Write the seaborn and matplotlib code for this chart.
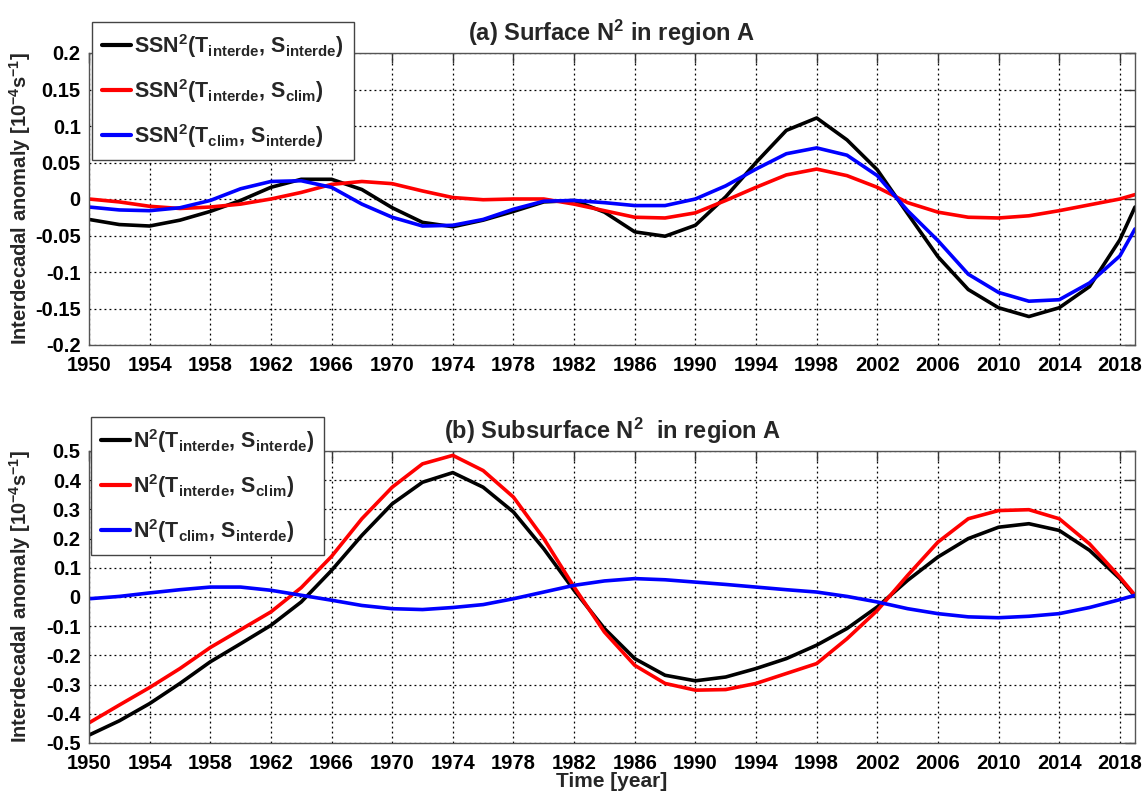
import matplotlib
matplotlib.use("Agg")
import matplotlib.pyplot as plt
from matplotlib import font_manager
import pandas as pd
import seaborn as sns

# ---------------------------------------------------------------- data
years = [1950, 1952, 1954, 1956, 1958, 1960, 1962, 1964, 1966, 1968,
         1970, 1972, 1974, 1976, 1978, 1980, 1982, 1984, 1986, 1988,
         1990, 1992, 1994, 1996, 1998, 2000, 2002, 2004, 2006, 2008,
         2010, 2012, 2014, 2016, 2018, 2019]

# (a) surface N^2 anomalies [1e-4 s^-1]
ssn_tint_sint = [-0.028, -0.035, -0.037, -0.029, -0.017, -0.002, 0.016, 0.027, 0.027, 0.013,
                 -0.012, -0.032, -0.038, -0.029, -0.017, -0.004, -0.002, -0.018, -0.045, -0.051,
                 -0.036, 0.003, 0.050, 0.094, 0.111, 0.081, 0.040, -0.020, -0.079, -0.124,
                 -0.149, -0.161, -0.149, -0.120, -0.056, -0.011]
ssn_tint_sclim = [0.000, -0.004, -0.010, -0.013, -0.011, -0.007, 0.000, 0.009, 0.020, 0.024,
                  0.021, 0.011, 0.002, -0.001, 0.000, 0.000, -0.007, -0.016, -0.025, -0.026,
                  -0.019, -0.002, 0.016, 0.033, 0.041, 0.032, 0.016, -0.005, -0.018, -0.025,
                  -0.026, -0.023, -0.016, -0.008, 0.000, 0.006]
ssn_tclim_sint = [-0.011, -0.015, -0.016, -0.012, -0.002, 0.014, 0.024, 0.025, 0.016, -0.007,
                  -0.025, -0.037, -0.036, -0.028, -0.014, -0.003, -0.002, -0.005, -0.009, -0.009,
                  0.000, 0.018, 0.041, 0.062, 0.070, 0.060, 0.032, -0.016, -0.057, -0.103,
                  -0.128, -0.140, -0.138, -0.115, -0.078, -0.041]

# (b) subsurface N^2 anomalies [1e-4 s^-1]
n2_tint_sint = [-0.473, -0.424, -0.365, -0.296, -0.222, -0.160, -0.097, -0.017, 0.091, 0.211,
                0.319, 0.393, 0.426, 0.376, 0.291, 0.165, 0.023, -0.108, -0.211, -0.268,
                -0.287, -0.274, -0.245, -0.211, -0.165, -0.108, -0.034, 0.057, 0.137, 0.200,
                0.239, 0.251, 0.228, 0.160, 0.063, 0.003]
n2_tint_sclim = [-0.431, -0.370, -0.310, -0.245, -0.173, -0.112, -0.051, 0.032, 0.139, 0.268,
                 0.376, 0.456, 0.485, 0.433, 0.342, 0.200, 0.034, -0.120, -0.234, -0.296,
                 -0.319, -0.317, -0.296, -0.262, -0.228, -0.143, -0.046, 0.074, 0.188, 0.268,
                 0.296, 0.299, 0.268, 0.182, 0.068, 0.006]
n2_tclim_sint = [-0.006, 0.002, 0.014, 0.025, 0.034, 0.034, 0.023, 0.006, -0.011, -0.029,
                 -0.040, -0.043, -0.036, -0.026, -0.006, 0.017, 0.040, 0.055, 0.063, 0.059,
                 0.051, 0.043, 0.034, 0.025, 0.017, 0.002, -0.017, -0.040, -0.057, -0.068,
                 -0.071, -0.066, -0.057, -0.036, -0.009, 0.006]

top_labels = [r"SSN$^2$(T$_{interde}$, S$_{interde}$)",
              r"SSN$^2$(T$_{interde}$, S$_{clim}$)",
              r"SSN$^2$(T$_{clim}$, S$_{interde}$)"]
bottom_labels = [r"N$^2$(T$_{interde}$, S$_{interde}$)",
                 r"N$^2$(T$_{interde}$, S$_{clim}$)",
                 r"N$^2$(T$_{clim}$, S$_{interde}$)"]
titles = [r"(a) Surface N$^2$ in region A", r"(b) Subsurface N$^2$  in region A"]
ylabel = r"Interdecadal anomaly [10$^{-4}$s$^{-1}$]"
xlabel = "Time [year]"
colors = ["#000000", "#ff0000", "#0000ff"]

xticks = list(range(1950, 2019, 4))
top_yticks = [-0.2, -0.15, -0.1, -0.05, 0, 0.05, 0.1, 0.15, 0.2]
bottom_yticks = [-0.5, -0.4, -0.3, -0.2, -0.1, 0, 0.1, 0.2, 0.3, 0.4, 0.5]

# ---------------------------------------------------------------- style
sns.set_theme(style="white")
available = {f.name for f in font_manager.fontManager.ttflist}
family = "Liberation Sans Narrow" if "Liberation Sans Narrow" in available else "Liberation Sans"
plt.rcParams["font.family"] = [family, "DejaVu Sans"]
plt.rcParams["font.weight"] = "bold"
plt.rcParams["mathtext.fontset"] = "custom"
for key in ("rm", "it", "bf", "sf"):
    plt.rcParams[f"mathtext.{key}"] = f"{family}:bold"
plt.rcParams["mathtext.default"] = "rm"
plt.rcParams["axes.unicode_minus"] = False


def long_frame(labels, series):
    rows = []
    for lab, vals in zip(labels, series):
        for y, v in zip(years, vals):
            rows.append({"year": y, "value": v, "series": lab})
    return pd.DataFrame(rows)


def fmt(v):
    return "0" if v == 0 else f"{v:g}"


fig = plt.figure(figsize=(11.45, 7.98), dpi=100)
W, H = 1145, 798
x0, x1 = 89, 1135
panels = [
    dict(top=53, bottom=345, labels=top_labels,
         series=[ssn_tint_sint, ssn_tint_sclim, ssn_tclim_sint],
         ylim=(-0.2, 0.2), yticks=top_yticks, title=titles[0], leg_top=22, leg_left=92),
    dict(top=451, bottom=743, labels=bottom_labels,
         series=[n2_tint_sint, n2_tint_sclim, n2_tclim_sint],
         ylim=(-0.5, 0.5), yticks=bottom_yticks, title=titles[1], leg_top=417, leg_left=91),
]

for i, p in enumerate(panels):
    ah = p["bottom"] - p["top"]
    ax = fig.add_axes([x0 / W, 1 - p["bottom"] / H, (x1 - x0) / W, ah / H])
    df = long_frame(p["labels"], p["series"])
    sns.lineplot(data=df, x="year", y="value", hue="series", hue_order=p["labels"],
                 palette=dict(zip(p["labels"], colors)), estimator=None, linewidth=2.6,
                 ax=ax, legend=True)
    ax.set_xlim(1950, 2019)
    ax.set_ylim(*p["ylim"])
    ax.set_xticks(xticks)
    ax.set_xticklabels([str(t) for t in xticks])
    ax.set_yticks(p["yticks"])
    ax.set_yticklabels([fmt(t) for t in p["yticks"]])
    ax.tick_params(axis="both", direction="in", length=7, width=1, colors="#333333",
                   labelcolor="black", labelsize=14.5, top=True, right=True)
    ax.tick_params(axis="y", pad=6)
    ax.tick_params(axis="x", pad=8)
    ax.grid(True, color="black", linestyle=(0, (1.5, 2.5)), linewidth=0.9)
    for sp in ax.spines.values():
        sp.set_color("#555555")
        sp.set_linewidth(1.0)
    ax.set_title(p["title"], fontsize=17, fontweight="bold", pad=9)
    ax.set_ylabel(ylabel, fontsize=14.5, fontweight="bold")
    ax.yaxis.set_label_coords(-(x0 - 33) / (x1 - x0), 0.5)
    if i == 1:
        ax.set_xlabel(xlabel, fontsize=15, fontweight="bold")
        ax.xaxis.set_label_coords(0.5, -29 / ah)
    else:
        ax.set_xlabel("")

    handles, labels = ax.get_legend_handles_labels()
    leg = ax.legend(handles, labels, loc="upper left",
                    bbox_to_anchor=((p["leg_left"] - x0) / (x1 - x0), 1 + (p["top"] - p["leg_top"]) / ah),
                    borderaxespad=0, fontsize=15.5, frameon=True, fancybox=False,
                    edgecolor="#444444", framealpha=1, handlelength=1.35, handletextpad=0.15,
                    labelspacing=0.8, borderpad=0.45)
    leg.get_frame().set_linewidth(1.0)
    for line in leg.get_lines():
        line.set_linewidth(3)

fig.savefig("out.png", dpi=100)
